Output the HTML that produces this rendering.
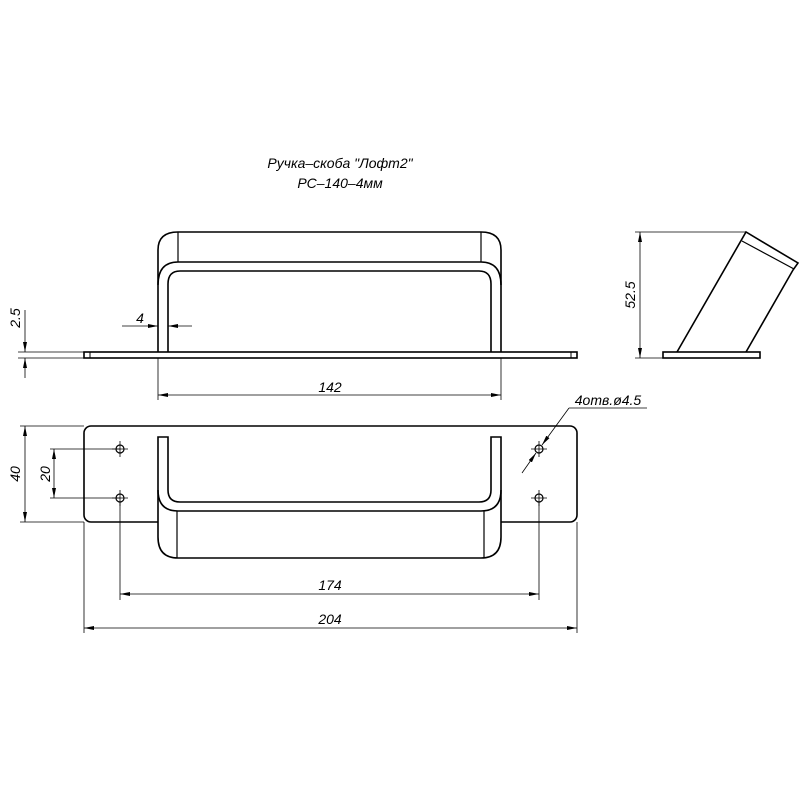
<!DOCTYPE html>
<html><head><meta charset="utf-8"><style>
html,body{margin:0;padding:0;background:#fff}
svg{display:block}
text{font-family:"Liberation Sans","DejaVu Sans",sans-serif;font-style:italic;fill:#000}
</style></head><body>
<svg width="800" height="800" viewBox="0 0 800 800" xmlns="http://www.w3.org/2000/svg">
<defs>
<marker id="a" viewBox="0 0 10 4" refX="10" refY="2" markerWidth="10" markerHeight="4" orient="auto-start-reverse" markerUnits="userSpaceOnUse"><path d="M0,0L10,2L0,4z" fill="#000"/></marker>
</defs>
<text x="340" y="168" font-size="14" text-anchor="middle">Ручка–скоба "Лофт2"</text>
<text x="340" y="188" font-size="14" text-anchor="middle">РС–140–4мм</text>

<g fill="none" stroke="#000" stroke-width="1.6">
<!-- top view -->
<rect x="84" y="352" width="493" height="6"/>
<line x1="90" y1="352" x2="90" y2="358" stroke-width="1"/>
<line x1="571" y1="352" x2="571" y2="358" stroke-width="1"/>
<path d="M158,352 V250 Q158,232 178,232 H481 Q501,232 501,250 V352"/>
<path d="M158,285 Q158,262 178,262 H481 Q501,262 501,285"/>
<path d="M168,352 V284 Q168,271 180,271 H479 Q491,271 491,284 V352"/>
<line x1="178" y1="232" x2="178" y2="262" stroke-width="1.2"/>
<line x1="481" y1="232" x2="481" y2="262" stroke-width="1.2"/>

<!-- bottom view -->
<rect x="84" y="426" width="493" height="96" rx="7"/>
<path d="M158,437 V537 Q158,558 178,558 H481 Q501,558 501,537 V437 H491 V490 Q491,502 479,502 H180 Q168,502 168,490 V437 Z" fill="#fff"/>
<path d="M158,490 Q158,511 178,511 H481 Q501,511 501,490"/>
<line x1="177" y1="511" x2="177" y2="558" stroke-width="1.2"/>
<line x1="484" y1="511" x2="484" y2="558" stroke-width="1.2"/>
<g stroke-width="1.2">
<circle cx="120" cy="449" r="4"/><circle cx="120" cy="498" r="4"/>
<circle cx="539" cy="449" r="4"/><circle cx="539" cy="498" r="4"/>
</g>
<!-- side view -->
<rect x="663" y="352" width="97" height="6"/>
<path d="M677,352 L746,232 L798,263 L793,270 L746,352"/>
<line x1="742" y1="241" x2="794" y2="269" stroke-width="1.2"/>
</g>

<g fill="none" stroke="#000" stroke-width="0.8">
<!-- centerlines for holes -->
<path d="M112,449h16M120,441v16M112,498h16M120,490v16M531,449h16M539,441v16M531,498h16M539,490v16"/>
<!-- 2.5 -->
<line x1="18" y1="352" x2="84" y2="352"/><line x1="18" y1="358" x2="84" y2="358"/>
<line x1="25" y1="310" x2="25" y2="352" marker-end="url(#a)"/>
<line x1="25" y1="378" x2="25" y2="358" marker-end="url(#a)"/>
<!-- 4 -->
<line x1="122" y1="326" x2="158" y2="326" marker-end="url(#a)"/>
<line x1="192" y1="326" x2="168" y2="326" marker-end="url(#a)"/>
<!-- 142 -->
<line x1="158" y1="358" x2="158" y2="400"/><line x1="501" y1="358" x2="501" y2="400"/>
<line x1="158" y1="395" x2="501" y2="395" marker-start="url(#a)" marker-end="url(#a)"/>
<!-- 52.5 -->
<line x1="635" y1="232" x2="746" y2="232"/><line x1="635" y1="358" x2="663" y2="358"/>
<line x1="640" y1="232" x2="640" y2="358" marker-start="url(#a)" marker-end="url(#a)"/>
<!-- 40 -->
<line x1="20" y1="426" x2="84" y2="426"/><line x1="20" y1="522" x2="84" y2="522"/>
<line x1="25" y1="426" x2="25" y2="522" marker-start="url(#a)" marker-end="url(#a)"/>
<!-- 20 -->
<line x1="50" y1="449" x2="120" y2="449"/><line x1="50" y1="498" x2="120" y2="498"/>
<line x1="54" y1="449" x2="54" y2="498" marker-start="url(#a)" marker-end="url(#a)"/>
<!-- 174 -->
<line x1="120" y1="502" x2="120" y2="600"/><line x1="539" y1="502" x2="539" y2="600"/>
<line x1="120" y1="594" x2="539" y2="594" marker-start="url(#a)" marker-end="url(#a)"/>
<!-- 204 -->
<line x1="84" y1="522" x2="84" y2="633"/><line x1="577" y1="522" x2="577" y2="633"/>
<line x1="84" y1="628" x2="577" y2="628" marker-start="url(#a)" marker-end="url(#a)"/>
<!-- leader -->
<line x1="569" y1="408" x2="647" y2="408"/>
<line x1="569" y1="408" x2="542" y2="445" marker-end="url(#a)"/>
<line x1="522" y1="473" x2="536" y2="453" marker-end="url(#a)"/>
</g>

<text x="140" y="323" font-size="14" text-anchor="middle">4</text>
<text x="330" y="392" font-size="14" text-anchor="middle">142</text>
<text x="330" y="590" font-size="14" text-anchor="middle">174</text>
<text x="330" y="624" font-size="14" text-anchor="middle">204</text>
<text x="608" y="405" font-size="14" text-anchor="middle">4отв.ø4.5</text>
<text transform="translate(20,318) rotate(-90)" font-size="14" text-anchor="middle">2.5</text>
<text transform="translate(20,474) rotate(-90)" font-size="14" text-anchor="middle">40</text>
<text transform="translate(50,474) rotate(-90)" font-size="14" text-anchor="middle">20</text>
<text transform="translate(635,295) rotate(-90)" font-size="14" text-anchor="middle">52.5</text>
</svg>
</body></html>
